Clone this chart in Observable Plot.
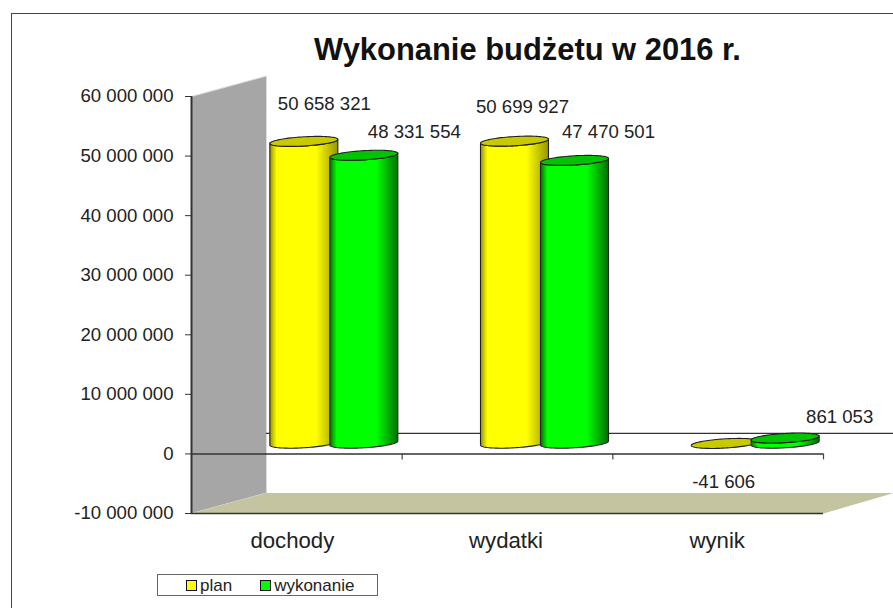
<!DOCTYPE html>
<html lang="pl">
<head>
<meta charset="utf-8">
<script src="https://cdn.jsdelivr.net/npm/d3@7"></script>
<script src="https://cdn.jsdelivr.net/npm/@observablehq/plot@0.6"></script>
<style>
html,body{margin:0;padding:0;background:#fff;width:893px;height:608px;overflow:hidden;position:relative;font-family:"Liberation Sans",Arial,sans-serif;}
#frame{position:absolute;left:11px;top:13px;width:882px;height:595px;border-left:1.5px solid #444;border-top:1.5px solid #444;box-sizing:border-box;pointer-events:none;}
#chart svg{display:block;}
#legend{margin:4px 0 0 157px;width:221px;height:22px;box-sizing:border-box;border:1.5px solid #666;display:flex;align-items:center;font-size:17px;color:#222;background:#fff;}
#legend i{display:inline-block;width:9px;height:9px;border:1.5px solid #111;margin-right:3px;}
#legend span{display:flex;align-items:center;line-height:1;}
</style>
</head>
<body>
<div id="chart"></div>
<div id="legend"></div>
<div id="frame"></div>
<script>
const title = "Wykonanie budżetu w 2016 r.";
const categories = ["dochody", "wydatki", "wynik"];
const planValues = [50658321, 50699927, -41606];
const wykonanieValues = [48331554, 47470501, 861053];
const yTicks = [-10000000, 0, 10000000, 20000000, 30000000, 40000000, 50000000, 60000000];
const seriesNames = ["plan", "wykonanie"];

// layout
const W = 893, H = 570, mL = 191, mR = 70, mT = 96, mB = 57;
const uX = (W - mL - mR) / 3;             // px per category
const uY = 70000000 / (H - mT - mB);      // value per px
const px = v => v / uX, py = v => v * uY;
const depthX = 75, depthY = 20.5;
const slot = 30, radius = 34, ry = 4.6, tilt = 2;
const fmt = d => d3.format(",")(d).replace(/,/g, " ").replace("\u2212", "-");
const colors = [
  {grad: "gy", cap: "#c9c900", dark: "#949400", mid: "#ffff00", flat: "#ffff00"},
  {grad: "gg", cap: "#00c400", dark: "#007000", mid: "#00ff00", flat: "#00ff00"}
];
const ink = "#222";

function arc(cx, value) {
  const rows = [];
  for (let i = 0; i <= 48; i++) {
    const t = Math.PI * (1 - i / 48);
    const dx = radius * Math.cos(t), s = ry * Math.sin(t), k = tilt * Math.cos(t);
    rows.push({
      x: cx + px(dx),
      lo: value + py(-s + k + depthY / 2),
      up: value + py(s + k + depthY / 2)
    });
  }
  return rows;
}

function cylinder(cat, si, value) {
  const cx = cat + 0.5 + px(depthX / 2 + (si === 0 ? -slot : slot));
  const c = colors[si];
  const top = arc(cx, value), base = arc(cx, 0);
  const body = top.map((d, i) => ({x: d.x, y1: base[i].lo, y2: d.lo}));
  const marks = [];
  if (Math.abs(value) > 100000) {
    marks.push(Plot.areaY(body, {x: "x", y1: "y1", y2: "y2", fill: `url(#${c.grad})`, stroke: ink, strokeWidth: 1.1}));
  }
  marks.push(Plot.areaY(top, {x: "x", y1: "lo", y2: "up", fill: c.cap, stroke: ink, strokeWidth: 1.1}));
  return marks;
}

function gradientDefs() {
  const defs = d3.create("svg:defs");
  colors.forEach(c => {
    const g = defs.append("linearGradient").attr("id", c.grad);
    [[0, c.dark], [0.1, c.mid], [0.68, c.mid], [1, c.dark]].forEach(([o, col]) =>
      g.append("stop").attr("offset", o).attr("stop-color", col));
  });
  return defs.node();
}

const wall = [
  {x: 0, y: -10000000}, {x: px(depthX), y: -10000000 + py(depthY)},
  {x: px(depthX), y: 60000000 + py(depthY)}, {x: 0, y: 60000000}
];
const floor = [
  {x: 0, y: -10000000}, {x: 3, y: -10000000},
  {x: 3 + px(70), y: -10000000 + py(depthY)}, {x: px(depthX), y: -10000000 + py(depthY)}
];

const labelShift = [
  [[20, -47.7], [50, -34]],
  [[7.5, -44.5], [33.5, -38.7]],
  [[-2, 28], [54, -31.5]]
];
const categoryShift = [-4.5, -1.5, -1];
const labelMarks = [];
categories.forEach((c, i) => {
  [planValues[i], wykonanieValues[i]].forEach((v, s) => {
    const cx = i + 0.5 + px(depthX / 2 + (s === 0 ? -slot : slot));
    labelMarks.push(Plot.text([v], {
      x: () => cx, y: d => d, text: fmt,
      dx: labelShift[i][s][0], dy: labelShift[i][s][1],
      fontSize: 18.6, fill: ink, textAnchor: "middle", lineAnchor: "middle"
    }));
  });
});

const chart = Plot.plot({
  width: W, height: H,
  marginLeft: mL, marginRight: mR, marginTop: mT, marginBottom: mB,
  style: {fontFamily: '"Liberation Sans", Arial, sans-serif', background: "#fff", overflow: "visible"},
  x: {domain: [0, 3], axis: null},
  y: {domain: [-10000000, 60000000], axis: null},
  marks: [
    gradientDefs,
    Plot.line(wall, {x: "x", y: "y", fill: "#a6a6a6", stroke: "#dcdcdc", strokeWidth: 1}),
    Plot.line(floor, {x: "x", y: "y", fill: "#c4c4a0", stroke: "none"}),
    Plot.ruleY([0], {x1: px(depthX), x2: 3 + px(70), dy: -depthY, stroke: "#333", strokeWidth: 1.3}),
    Plot.ruleY([0], {x1: 0, x2: 3, stroke: "#333", strokeWidth: 1.5}),
    Plot.ruleY([-10000000], {x1: 0, x2: 3, stroke: "#333", strokeWidth: 1.5}),
    Plot.ruleX([1, 2, 3], {y1: 0, y2: -1000000, stroke: "#444", strokeWidth: 1.2}),
    Plot.ruleX([0], {y1: -10000000, y2: 60000000, stroke: "#333", strokeWidth: 2}),
    Plot.axisY({
      ticks: yTicks, tickFormat: fmt, tickSize: 6, tickPadding: 12,
      fontSize: 18.6, label: null, stroke: "#333", color: ink
    }),
    ...categories.flatMap((c, i) => [
      ...cylinder(i, 0, planValues[i]),
      ...cylinder(i, 1, wykonanieValues[i])
    ]),
    ...labelMarks,
    Plot.text(categories, {
      x: (d, i) => i + 0.5 + px(categoryShift[i]), y: () => -10000000, text: d => d,
      dy: 27, fontSize: 22.2, fill: ink, textAnchor: "middle", lineAnchor: "middle"
    }),
    Plot.text([title], {
      frameAnchor: "top", dx: 20, dy: -46, text: d => d,
      fontSize: 30.9, fontWeight: "bold", fill: "#111", lineAnchor: "middle"
    })
  ]
});
document.getElementById("chart").appendChild(chart);

const legend = d3.select("#legend");
seriesNames.forEach((name, i) => {
  const s = legend.append("span").style("margin-left", "28px");
  s.append("i").style("background", colors[i].flat);
  s.append("text").text(name);
});
</script>
</body>
</html>
